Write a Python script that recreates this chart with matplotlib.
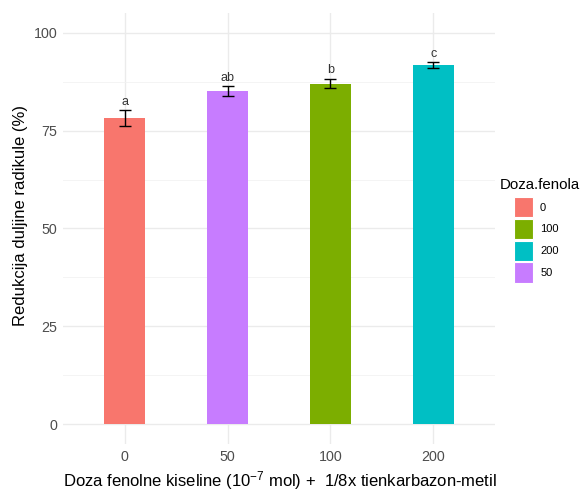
import numpy as np
import matplotlib
matplotlib.use('Agg')
import matplotlib.pyplot as plt
from matplotlib.patches import Patch

plt.rcParams['font.family'] = ['Liberation Sans', 'DejaVu Sans']
plt.rcParams['mathtext.fontset'] = 'custom'
plt.rcParams['mathtext.rm'] = 'Liberation Sans'
plt.rcParams['mathtext.default'] = 'regular'

# ── data ────────────────────────────────────────────────────────────────
doses = ['0', '50', '100', '200']
means = [78.2, 85.1, 87.0, 91.7]
se = [2.0, 1.25, 1.2, 0.8]
letters = ['a', 'ab', 'b', 'c']
colors = {'0': '#F8766D', '100': '#7CAE00', '200': '#00BFC4', '50': '#C77CFF'}
legend_order = ['0', '100', '200', '50']

fig = plt.figure(figsize=(5.86, 4.96), dpi=100)
ax = fig.add_axes([63 / 586, 1 - 444 / 496, 432 / 586, 431 / 496])

x = np.arange(1, len(doses) + 1)
ax.bar(x, means, width=0.4, color=[colors[d] for d in doses], zorder=2)
ax.errorbar(x, means, yerr=se, fmt='none', ecolor='black', elinewidth=1.0,
            capsize=4, capthick=1.0, zorder=3)
for xi, m, s, lab in zip(x, means, se, letters):
    ax.text(xi, m + s + 0.6, lab, ha='center', va='bottom', fontsize=9,
            color='#333333')

ax.set_xlim(0.4, 4.6)
ax.set_ylim(-5, 105)
ax.set_xticks(x)
ax.set_xticklabels(doses)
ax.set_yticks([0, 25, 50, 75, 100])
ax.set_yticks([12.5, 37.5, 62.5, 87.5], minor=True)
ax.set_xticks([], minor=True)
ax.tick_params(axis='both', which='both', length=0, labelsize=10.3,
               labelcolor='#4d4d4d', pad=4)
ax.grid(True, which='major', color='#ebebeb', linewidth=1.0, zorder=0)
ax.grid(True, which='minor', axis='y', color='#f2f2f2', linewidth=0.6, zorder=0)
ax.set_axisbelow(True)
for sp in ax.spines.values():
    sp.set_visible(False)

fig.text(21 / 586, 1 - 215 / 496, 'Redukcija duljine radikule (%)', rotation=90,
         ha='center', va='center', fontsize=12, color='black')
fig.text(280 / 586, 1 - 481 / 496,
         r'Doza fenolne kiseline (10$^{-7}$ mol) +  1/8x tienkarbazon-metil',
         ha='center', va='center', fontsize=12, color='black')

# legend: title sits a little left of the keys, as in the reference
fig.text(500 / 586, 1 - 185 / 496, 'Doza.fenola', ha='left', va='center',
         fontsize=10.8, color='black')
handles = [Patch(facecolor=colors[d], edgecolor='white', linewidth=0.8, label=d)
           for d in legend_order]
fig.legend(handles=handles, loc='upper left',
           bbox_to_anchor=(514 / 586, 1 - 197 / 496), frameon=False,
           fontsize=8, handlelength=1.75, handleheight=2.45,
           handletextpad=0.6, labelspacing=0.12, borderaxespad=0, borderpad=0)

fig.savefig('out.png', dpi=100)
